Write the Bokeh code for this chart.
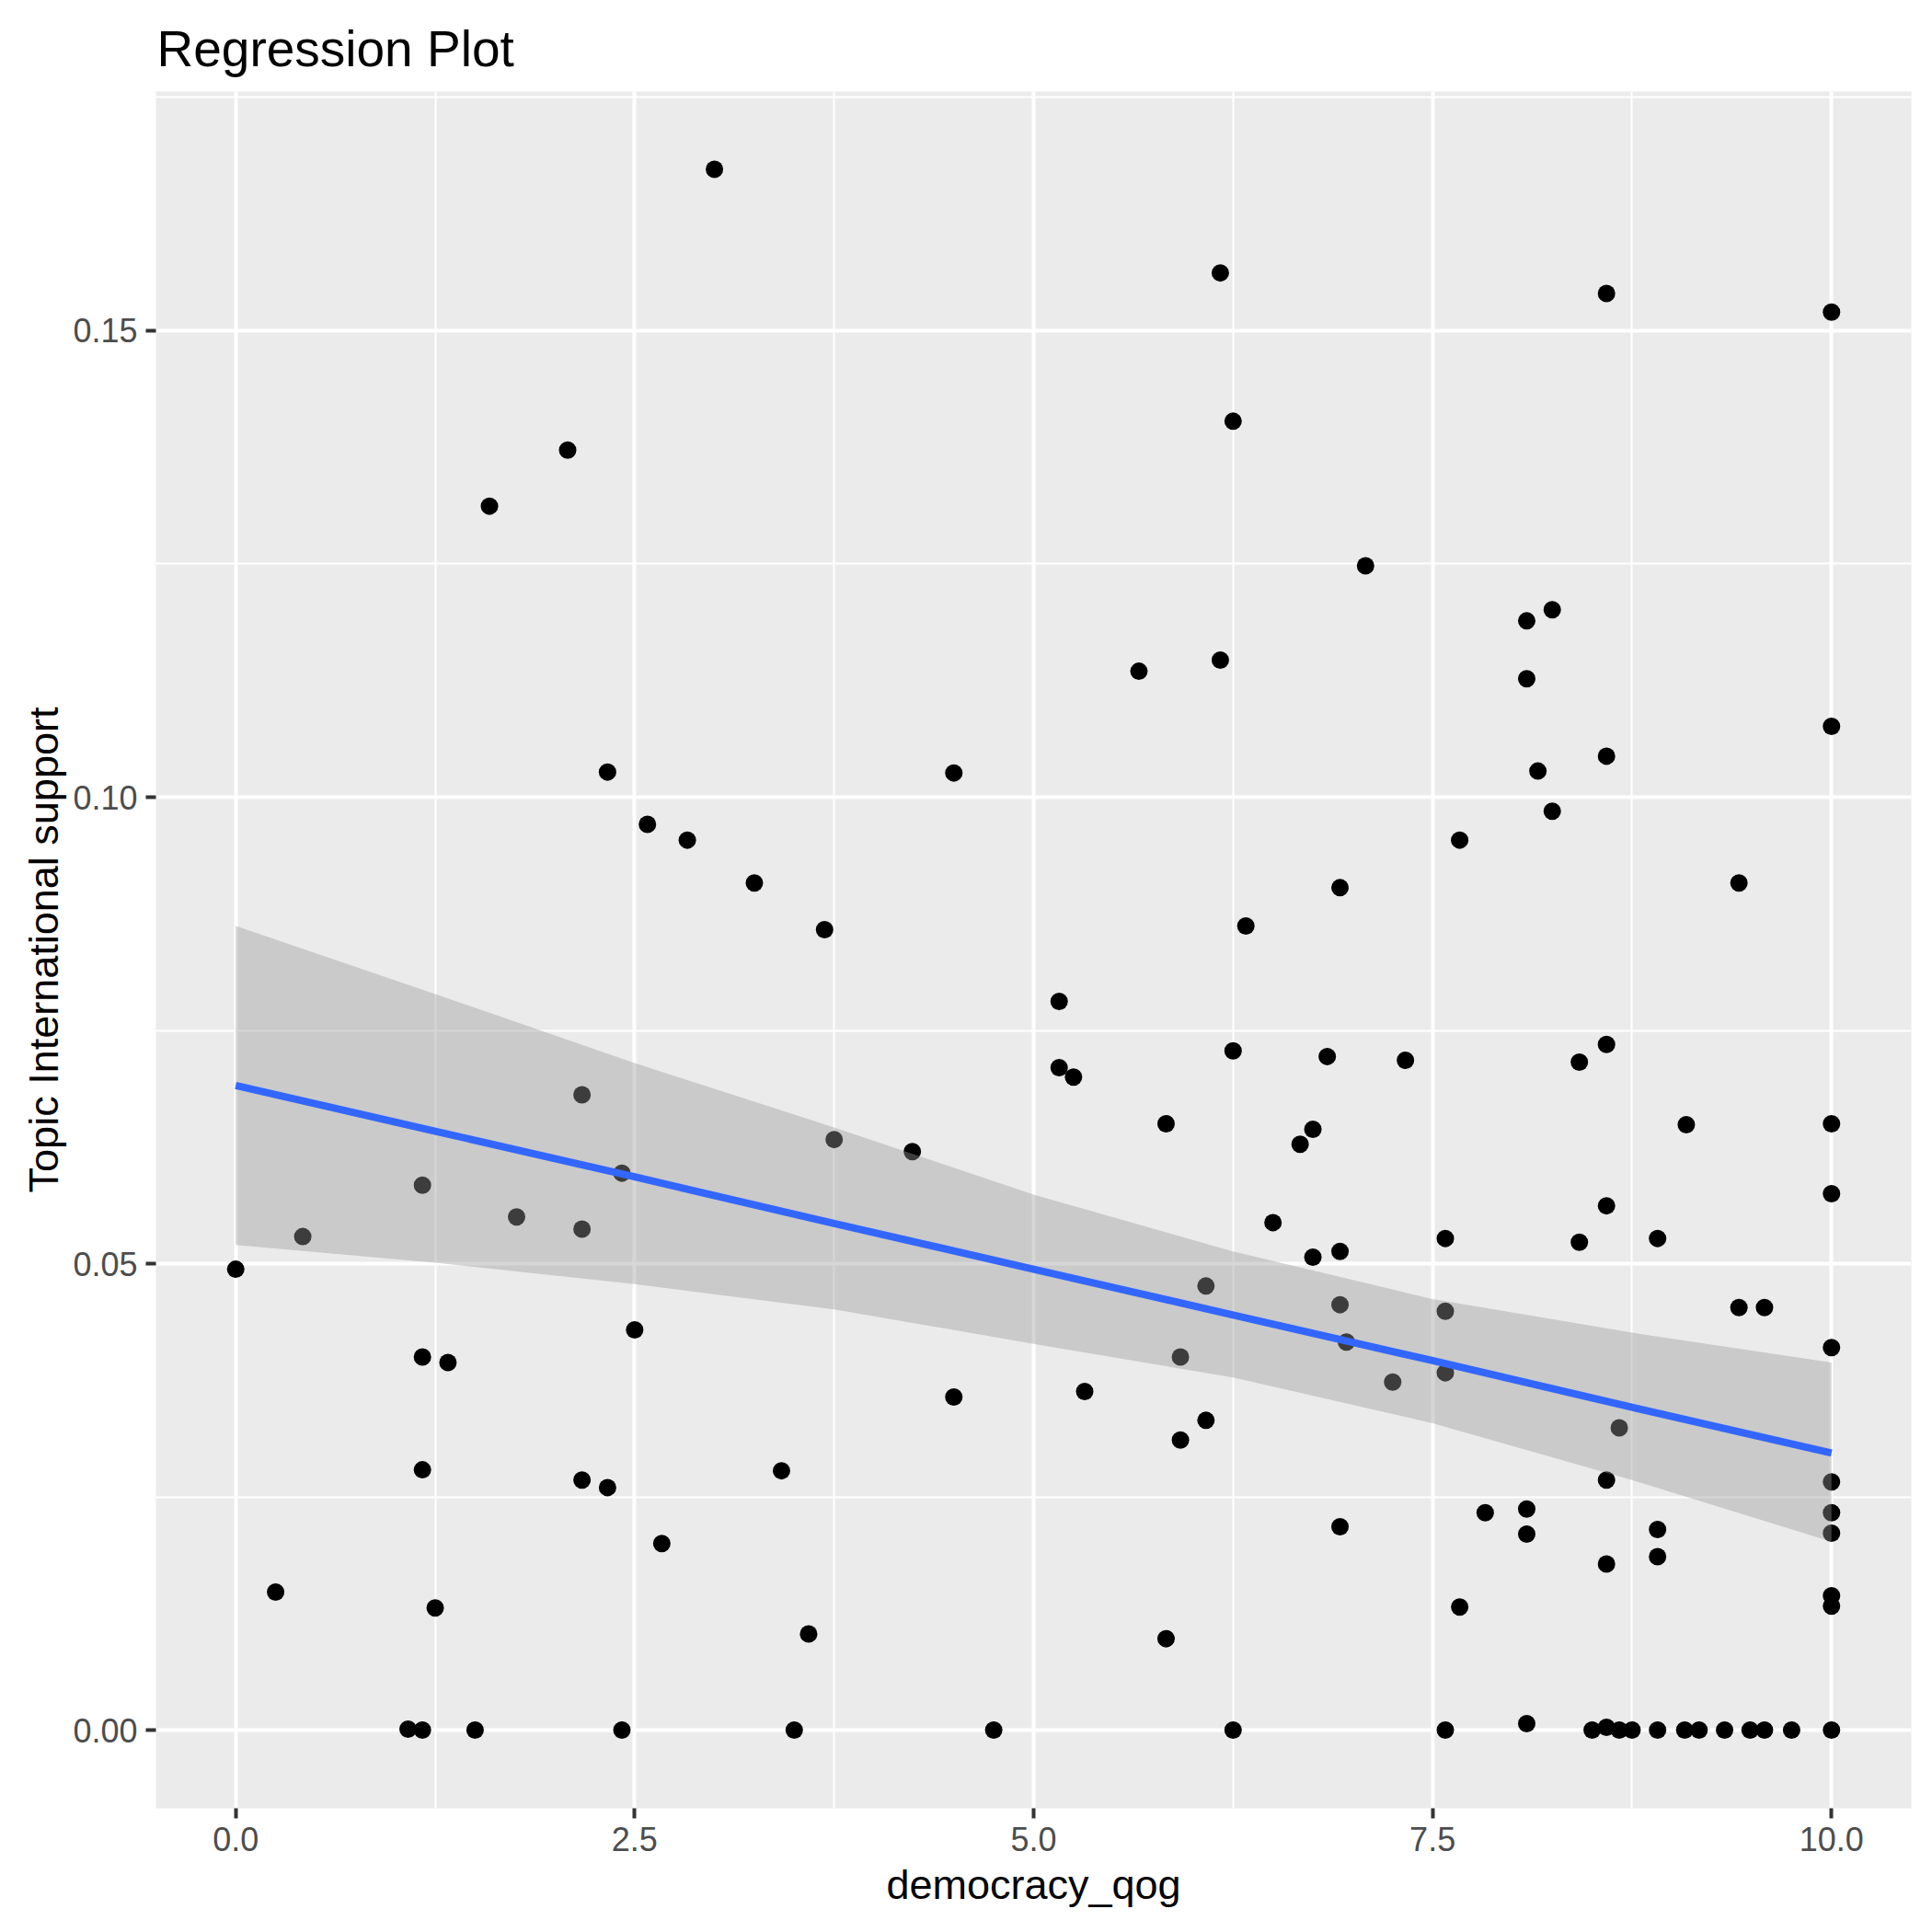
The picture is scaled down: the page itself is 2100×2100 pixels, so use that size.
from bokeh.plotting import figure
from bokeh.models import Range1d, FixedTicker
from bokeh.embed import file_html
from bokeh.resources import INLINE

# ---- data ----
democracy_qog = [
    0.00, 0.25, 0.42, 1.08, 1.17, 1.17, 1.17, 1.17, 1.25, 1.33,
    1.50, 1.59, 1.76, 2.08, 2.17, 2.17, 2.17, 2.33, 2.33, 2.42,
    2.42, 2.50, 2.58, 2.67, 2.83, 3.00, 3.25, 3.42, 3.50, 3.59,
    3.69, 3.75, 4.24, 4.50, 4.50, 4.75, 5.16, 5.16, 5.25, 5.32,
    5.66, 5.83, 5.83, 5.92, 5.92, 6.08, 6.08, 6.17, 6.17, 6.25,
    6.25, 6.25, 6.33, 6.50, 6.67, 6.75, 6.75, 6.84, 6.92, 6.92,
    6.92, 6.92, 6.96, 7.08, 7.25, 7.33, 7.58, 7.58, 7.58, 7.58,
    7.67, 7.67, 7.83, 8.09, 8.09, 8.09, 8.09, 8.09, 8.16, 8.25,
    8.25, 8.42, 8.42, 8.50, 8.59, 8.59, 8.59, 8.59, 8.59, 8.59,
    8.59, 8.67, 8.67, 8.75, 8.91, 8.91, 8.91, 8.91, 9.08, 9.09,
    9.17, 9.33, 9.42, 9.42, 9.49, 9.58, 9.58, 9.75, 10.0, 10.0,
    10.0, 10.0, 10.0, 10.0, 10.0, 10.0, 10.0, 10.0, 10.0,
]
topic_international_support = [
    0.0494, 0.0148, 0.0529, 0.0001, 0.0000, 0.0584, 0.0400, 0.0279, 0.0131, 0.0394,
    0.0000, 0.1312, 0.0550, 0.1372, 0.0681, 0.0537, 0.0268, 0.1027, 0.0260, 0.0597,
    0.0000, 0.0429, 0.0971, 0.0200, 0.0954, 0.1673, 0.0908, 0.0278, 0.0000, 0.0103,
    0.0858, 0.0633, 0.0620, 0.1026, 0.0357, 0.0000, 0.0781, 0.0710, 0.0700, 0.0363,
    0.1135, 0.0650, 0.0098, 0.0400, 0.0311, 0.0476, 0.0332, 0.1562, 0.1147, 0.1403,
    0.0728, 0.0000, 0.0862, 0.0544, 0.0628, 0.0644, 0.0507, 0.0722, 0.0903, 0.0513,
    0.0456, 0.0218, 0.0416, 0.1248, 0.0373, 0.0718, 0.0527, 0.0449, 0.0383, 0.0000,
    0.0954, 0.0132, 0.0233, 0.1189, 0.1127, 0.0237, 0.0210, 0.0007, 0.1028, 0.1201,
    0.0985, 0.0716, 0.0523, 0.0000, 0.1540, 0.1044, 0.0735, 0.0562, 0.0268, 0.0178,
    0.0003, 0.0324, 0.0000, 0.0000, 0.0527, 0.0215, 0.0186, 0.0000, 0.0000, 0.0649,
    0.0000, 0.0000, 0.0908, 0.0453, 0.0000, 0.0453, 0.0000, 0.0000, 0.1520, 0.1076,
    0.0650, 0.0575, 0.0410, 0.0266, 0.0233, 0.0211, 0.0144, 0.0133, 0.0000,
]

# linear smooth (geom_smooth, method = "lm") as drawn in the reference
smooth_x = [0.0, 1.25, 2.5, 3.75, 5.0, 6.25, 7.5, 8.75, 10.0]
smooth_fit = [0.0691, 0.0642, 0.0593, 0.0543, 0.0494, 0.0445, 0.0396, 0.0346, 0.0297]
smooth_lower = [0.0520, 0.0501, 0.0478, 0.0451, 0.0414, 0.0378, 0.0329, 0.0268, 0.0202]
smooth_upper = [0.0862, 0.0789, 0.0715, 0.0646, 0.0574, 0.0513, 0.0462, 0.0426, 0.0394]

x_ticks = [0.0, 2.5, 5.0, 7.5, 10.0]
x_tick_labels = ["0.0", "2.5", "5.0", "7.5", "10.0"]
x_minor = [1.25, 3.75, 6.25, 8.75]
y_ticks = [0.00, 0.05, 0.10, 0.15]
y_tick_labels = ["0.00", "0.05", "0.10", "0.15"]
y_minor = [0.025, 0.075, 0.125, 0.175]

FONT = "Liberation Sans"

p = figure(width=2092, height=2092,
           x_range=Range1d(-0.5, 10.5), y_range=Range1d(-0.00838, 0.17564),
           output_backend="svg", toolbar_location=None,
           min_border_left=169, min_border_right=15,
           min_border_top=99, min_border_bottom=127,
           title="Regression Plot")

p.background_fill_color = "#EBEBEB"
p.border_fill_color = "white"
p.outline_line_color = None

p.title.text_font = FONT
p.title.text_font_size = "55px"
p.title.text_font_style = "normal"
p.title.text_color = "black"
p.title.text_line_height = 0.9
p.title.align = "left"
p.title.offset = 1
p.title.standoff = 32

p.xaxis.ticker = FixedTicker(ticks=x_ticks, minor_ticks=x_minor)
p.yaxis.ticker = FixedTicker(ticks=y_ticks, minor_ticks=y_minor)
p.xaxis.major_label_overrides = {t: l for t, l in zip(x_ticks, x_tick_labels)}
p.yaxis.major_label_overrides = {t: l for t, l in zip(y_ticks, y_tick_labels)}

for ax in (p.xaxis, p.yaxis):
    ax.axis_line_color = None
    ax.major_tick_line_color = "#333333"
    ax.major_tick_line_width = 4
    ax.major_tick_out = 11
    ax.major_tick_in = 0
    ax.minor_tick_line_color = None
    ax.major_label_text_font = FONT
    ax.major_label_text_font_size = "36px"
    ax.major_label_text_color = "#4D4D4D"
    ax.axis_label_text_font = FONT
    ax.axis_label_text_font_size = "45px"
    ax.axis_label_text_font_style = "normal"
    ax.axis_label_text_color = "black"
    ax.major_label_standoff = 9

p.xaxis.axis_label = "democracy_qog"
p.yaxis.axis_label = "Topic International support"
p.xaxis.axis_label_standoff = 8
p.yaxis.axis_label_standoff = 3

for g in (p.xgrid, p.ygrid):
    g.grid_line_color = "white"
    g.grid_line_width = 4
    g.minor_grid_line_color = "white"
    g.minor_grid_line_width = 2

p.scatter(democracy_qog, topic_international_support, size=19,
          fill_color="black", line_color=None)
p.varea(x=smooth_x, y1=smooth_lower, y2=smooth_upper,
        fill_color="#999999", fill_alpha=0.4)
p.line(smooth_x, smooth_fit, line_color="#3366FF", line_width=8)

open("out.html", "w").write(file_html(p, INLINE))
